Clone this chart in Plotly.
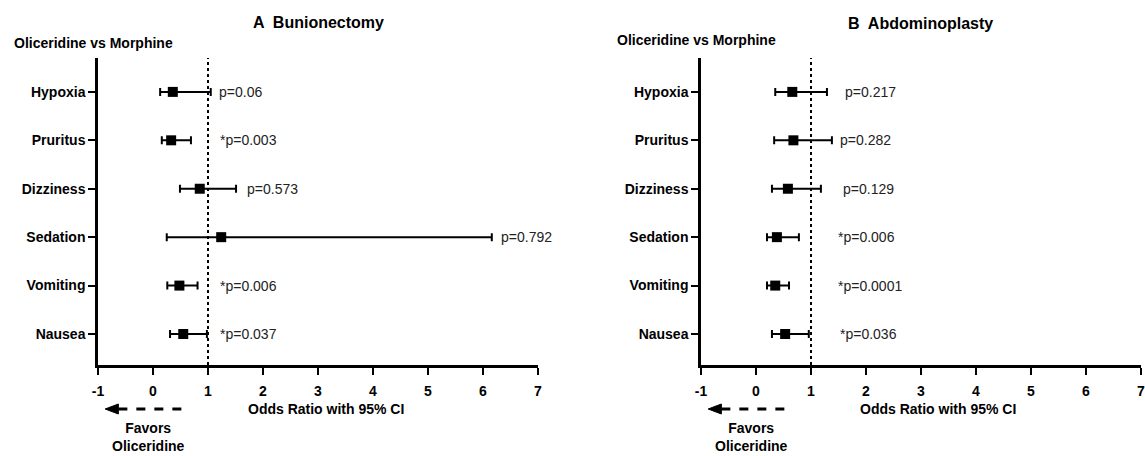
import plotly.graph_objects as go

categories = ["Hypoxia", "Pruritus", "Dizziness", "Sedation", "Vomiting", "Nausea"]

a_or = [0.36, 0.33, 0.85, 1.24, 0.48, 0.55]
a_lo = [0.13, 0.16, 0.49, 0.25, 0.26, 0.31]
a_hi = [1.05, 0.69, 1.51, 6.16, 0.81, 0.98]
a_p = ["p=0.06", "*p=0.003", "p=0.573", "p=0.792", "*p=0.006", "*p=0.037"]
a_px = [1.22, 1.24, 1.73, 6.35, 1.24, 1.24]

b_or = [0.66, 0.68, 0.58, 0.38, 0.35, 0.53]
b_lo = [0.35, 0.33, 0.29, 0.20, 0.20, 0.29]
b_hi = [1.29, 1.38, 1.18, 0.78, 0.60, 0.96]
b_p = ["p=0.217", "p=0.282", "p=0.129", "*p=0.006", "*p=0.0001", "*p=0.036"]
b_px = [1.64, 1.55, 1.60, 1.51, 1.51, 1.55]

x_ticks = [-1, 0, 1, 2, 3, 4, 5, 6, 7]
titles = ["A  Bunionectomy", "B  Abdominoplasty"]
subtitle = "Oliceridine vs Morphine"
x_title = "Odds Ratio with 95% CI"
favors = "Favors<br>Oliceridine"

FONT = "Liberation Sans, Arial, sans-serif"
W, H = 1145, 456


def PX(p):
    return p / W


def PY(p):
    return 1 - p / H


fig = go.Figure()

panels = [
    dict(orv=a_or, lo=a_lo, hi=a_hi, p=a_p, px=a_px, xa="x", ya="y",
         dom=[PX(98), PX(538)], title=titles[0], sub_x=PX(12), sub_y=43,
         title_y=22, xt=3.15),
    dict(orv=b_or, lo=b_lo, hi=b_hi, p=b_p, px=b_px, xa="x2", ya="y2",
         dom=[PX(701), PX(1141)], title=titles[1], sub_x=PX(615), sub_y=40,
         title_y=24, xt=3.3),
]

ydom = [PY(365), PY(58)]

annotations = []
shapes = []
for i, pn in enumerate(panels):
    plus = [h - o for h, o in zip(pn["hi"], pn["orv"])]
    minus = [o - l for o, l in zip(pn["orv"], pn["lo"])]
    fig.add_trace(go.Scatter(
        x=pn["orv"], y=categories, mode="markers",
        marker=dict(symbol="square", size=10, color="black"),
        error_x=dict(type="data", symmetric=False, array=plus, arrayminus=minus,
                     color="black", thickness=2, width=4),
        xaxis=pn["xa"], yaxis=pn["ya"], showlegend=False, cliponaxis=False,
    ))
    for cat, txt, tx in zip(categories, pn["p"], pn["px"]):
        annotations.append(dict(
            x=tx, y=cat, xref=pn["xa"], yref=pn["ya"], text=txt, showarrow=False,
            xanchor="left", yanchor="middle", xshift=-3,
            font=dict(family=FONT, size=14, color="#222")))
    xc = (pn["dom"][0] + pn["dom"][1]) / 2
    annotations.append(dict(
        x=xc, y=PY(pn["title_y"]), xref="paper", yref="paper", text="<b>%s</b>" % pn["title"],
        showarrow=False, xanchor="center", yanchor="middle",
        font=dict(family=FONT, size=16, color="black")))
    annotations.append(dict(
        x=pn["sub_x"], y=PY(pn["sub_y"]), xref="paper", yref="paper",
        text="<b>%s</b>" % subtitle, showarrow=False, xanchor="left", yanchor="middle",
        font=dict(family=FONT, size=14, color="black")))
    annotations.append(dict(
        x=pn["xt"], y=PY(409), xref=pn["xa"], yref="paper",
        text="<b>%s</b>" % x_title, showarrow=False, xanchor="center", yanchor="middle",
        font=dict(family=FONT, size=14, color="black")))
    annotations.append(dict(
        x=-0.08, y=PY(437), xref=pn["xa"], yref="paper",
        text="<b>%s</b>" % favors, showarrow=False, xanchor="center", yanchor="middle",
        font=dict(family=FONT, size=14, color="black")))
    # reference line at OR = 1
    shapes.append(dict(type="line", x0=1, x1=1, y0=0, y1=1, xref=pn["xa"],
                       yref=pn["ya"] + " domain", line=dict(color="black", width=2, dash="dot")))
    # dashed arrow
    ya = PY(409)
    shapes.append(dict(type="line", x0=-0.63, x1=0.64, y0=ya, y1=ya, xref=pn["xa"],
                       yref="paper", line=dict(color="black", width=3, dash="dash")))
    dh = 5 / H
    shapes.append(dict(type="path", xref=pn["xa"], yref="paper",
                       path="M %f,%f L %f,%f L %f,%f Z" % (-0.87, ya, -0.63, ya + dh, -0.63, ya - dh),
                       fillcolor="black", line=dict(color="black", width=1)))

axis_common = dict(showline=True, linecolor="black", linewidth=2.5, ticks="outside",
                   ticklen=7, tickwidth=2, tickcolor="black", showgrid=False,
                   zeroline=False, mirror=False, automargin=False)

for i, pn in enumerate(panels):
    sfx = "" if i == 0 else "2"
    fig.update_layout(**{
        "xaxis" + sfx: dict(axis_common, domain=pn["dom"], range=[-1, 7], tickvals=x_ticks,
                            ticktext=["<b>%d</b>" % v for v in x_ticks],
                            anchor="y" + sfx, ticklabelstandoff=4,
                            ticklabeloverflow="allow",
                            tickfont=dict(family=FONT, size=14, color="black")),
        "yaxis" + sfx: dict(axis_common, domain=ydom, type="category",
                            categoryarray=categories[::-1], range=[-0.64, 5.70],
                            anchor="x" + sfx,
                            tickvals=categories, ticktext=["<b>%s</b>" % c for c in categories],
                            tickfont=dict(family=FONT, size=14, color="black")),
    })

fig.update_layout(width=W, height=H, margin=dict(l=0, r=0, t=0, b=0, autoexpand=False),
                  plot_bgcolor="white", paper_bgcolor="white",
                  annotations=annotations, shapes=shapes)

fig.write_html("out.html", config={"displayModeBar": False},
               post_script="document.body.style.margin='0';document.body.style.overflow='hidden';")
